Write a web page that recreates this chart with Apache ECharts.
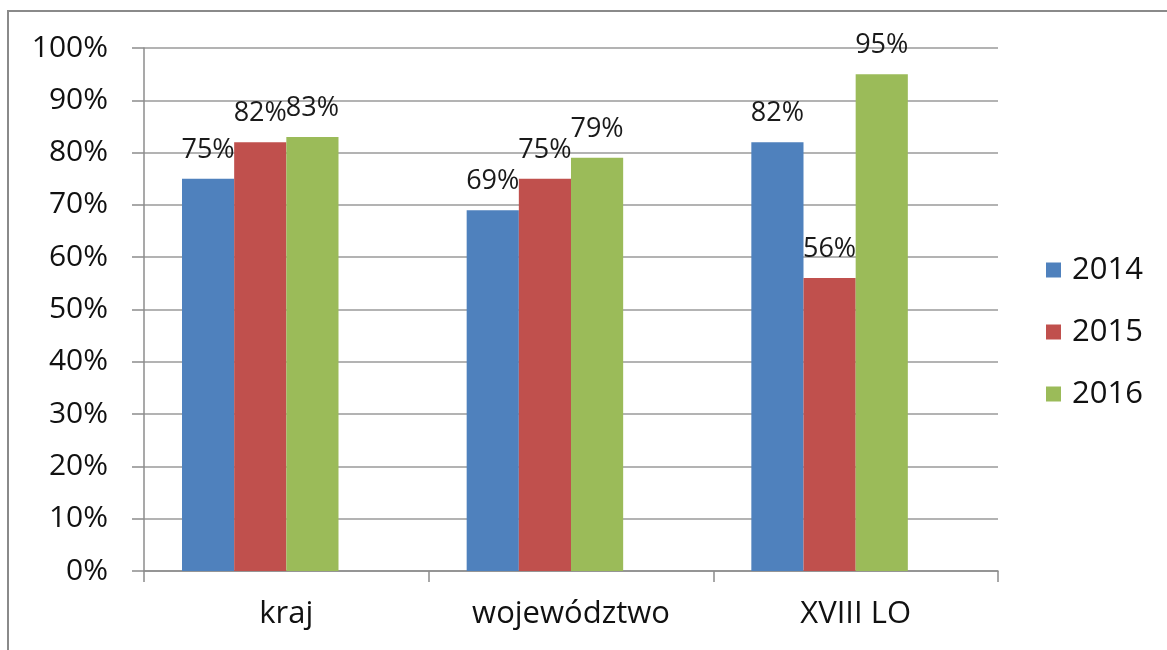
<!DOCTYPE html>
<html>
<head>
<meta charset="utf-8">
<script src="https://cdn.jsdelivr.net/npm/echarts@6/dist/echarts.min.js"></script>
<style>
  html, body { margin: 0; padding: 0; background: #fff; }
  #chart { width: 1167px; height: 650px; }
</style>
</head>
<body>
<div id="chart"></div>
<script>
// Pass rates by area and year
const categories = ['kraj', 'województwo', 'XVIII LO'];
const years = ['2014', '2015', '2016'];
const values2014 = [75, 69, 82];
const values2015 = [82, 75, 56];
const values2016 = [83, 79, 95];
const yTicks = { min: 0, max: 100, interval: 10 };

const colors = ['#4F81BD', '#C0504D', '#9BBB59'];
const FONT = '"Open Sans", Lato, sans-serif';

const seriesValues = [values2014, values2015, values2016];

const series = seriesValues.map((vals, i) => ({
  name: years[i],
  type: 'bar',
  data: vals,
  barGap: '0%',
  barCategoryGap: '26.7%',
  itemStyle: { color: colors[i] },
  label: {
    show: true,
    position: 'top',
    distance: 15,
    formatter: '{c}%',
    fontFamily: FONT,
    fontSize: 27,
    color: '#1a1a1a'
  }
}));
// empty fourth slot in each group keeps the three bars left of the category centre
series.push({
  name: '',
  type: 'bar',
  data: categories.map(() => null),
  barGap: '0%',
  barCategoryGap: '26.7%',
  silent: true
});

const chart = echarts.init(document.getElementById('chart'));
chart.setOption({
  animation: false,
  backgroundColor: '#fff',
  graphic: [{
    type: 'rect',
    shape: { x: 8, y: 11, width: 1180, height: 660 },
    style: { fill: 'none', stroke: '#8a8a8a', lineWidth: 2 },
    silent: true
  }],
  grid: { left: 144, right: 169, top: 48, bottom: 79 },
  legend: {
    data: years,
    orient: 'vertical',
    left: 1041,
    top: 249,
    itemWidth: 15,
    itemHeight: 15,
    itemGap: 30,
    icon: 'rect',
    textStyle: { fontFamily: FONT, fontSize: 31, color: '#111', lineHeight: 32, padding: [0, 0, 0, 6] }
  },
  xAxis: {
    type: 'category',
    data: categories,
    axisLine: { show: true, lineStyle: { color: '#8c8c8c', width: 1.5 } },
    axisTick: { show: true, length: 11, alignWithLabel: false, lineStyle: { color: '#8c8c8c', width: 1.5 } },
    axisLabel: { fontFamily: FONT, fontSize: 31, color: '#111', margin: 28 }
  },
  yAxis: {
    type: 'value',
    min: yTicks.min,
    max: yTicks.max,
    interval: yTicks.interval,
    axisLine: { show: true, lineStyle: { color: '#8c8c8c', width: 1.5 } },
    axisTick: { show: true, length: 12, lineStyle: { color: '#8c8c8c', width: 1.5 } },
    splitLine: { show: true, lineStyle: { color: '#9a9a9a', width: 1.5 } },
    axisLabel: { formatter: '{value}%', fontFamily: FONT, fontSize: 30, color: '#111', margin: 36 }
  },
  series: series
});
</script>
</body>
</html>
